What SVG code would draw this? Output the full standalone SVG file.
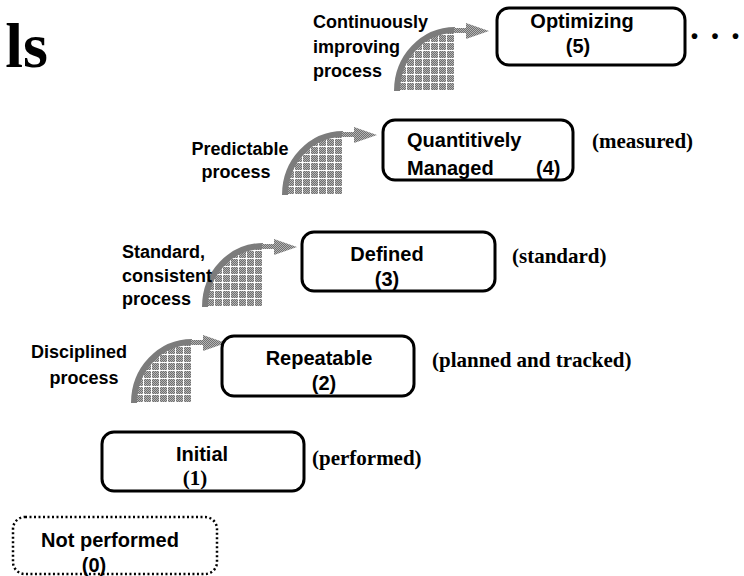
<svg xmlns="http://www.w3.org/2000/svg" xmlns:xlink="http://www.w3.org/1999/xlink" width="744" height="576" viewBox="0 0 744 576">
  <style>
    .box { fill: #ffffff; stroke: #000000; stroke-width: 3; }
    .box-dotted { fill: #ffffff; stroke: #000000; stroke-width: 2.5; stroke-dasharray: 2 2.5; }
    .title { font-family: "Liberation Sans", Arial, sans-serif; font-weight: bold; font-size: 20px; fill: #000; }
    .side { font-family: "Liberation Sans", Arial, sans-serif; font-weight: bold; font-size: 18px; fill: #000; }
    .note { font-family: "Liberation Serif", "Times New Roman", serif; font-weight: bold; font-size: 21px; fill: #000; }
    .heading { font-family: "Liberation Serif", "Times New Roman", serif; font-weight: bold; font-size: 64px; fill: #000; }
    .arc-edge { fill: none; stroke: #7c7c7c; stroke-width: 6; }
  </style>
  <defs>
    <!-- fine dither used inside the grid cells -->
    <pattern id="dither" width="2" height="2" patternUnits="userSpaceOnUse">
      <rect width="2" height="2" fill="#707070"/>
      <rect width="1" height="1" fill="#b4b4b4"/>
      <rect x="1" y="1" width="1" height="1" fill="#b4b4b4"/>
    </pattern>
    <!-- gray cells separated by thin white lines -->
    <pattern id="grid" width="8" height="8" patternUnits="userSpaceOnUse">
      <rect width="8" height="8" fill="url(#dither)"/>
      <rect x="7" width="1" height="8" fill="#ffffff"/>
      <rect y="7" width="8" height="1" fill="#ffffff"/>
    </pattern>
    <!-- curved step arrow, origin at the inner corner of the quarter ellipse -->
    <g id="stepArrow">
      <path d="M-58,0 A58,61 0 0 1 0,-61 L0,0 Z" fill="url(#grid)"/>
      <path class="arc-edge" d="M-58,0 A58,61 0 0 1 0,-61"/>
      <rect x="-1" y="-63" width="14" height="5" fill="url(#dither)"/>
      <polygon points="11,-68 34,-60 11,-52" fill="url(#dither)"/>
    </g>
  </defs>

  <rect width="744" height="576" fill="#ffffff"/>

  <text class="heading" x="48" y="67" text-anchor="end">ls</text>

  <!-- connectors: curved arrows between maturity steps -->
  <g id="connectors">
    <use xlink:href="#stepArrow" x="455" y="91"/>
    <use xlink:href="#stepArrow" x="343" y="195"/>
    <use xlink:href="#stepArrow" x="263" y="307"/>
    <use xlink:href="#stepArrow" x="192" y="403"/>
  </g>

  <g id="label-continuous">
    <text class="side" x="313" y="28">Continuously</text>
    <text class="side" x="313" y="53">improving</text>
    <text class="side" x="313" y="77">process</text>
  </g>

  <g id="label-predictable">
    <text class="side" x="240" y="155" text-anchor="middle">Predictable</text>
    <text class="side" x="236" y="178" text-anchor="middle">process</text>
  </g>

  <g id="label-standard">
    <text class="side" x="122" y="258">Standard,</text>
    <text class="side" x="122" y="282">consistent</text>
    <text class="side" x="122" y="305">process</text>
  </g>

  <g id="label-disciplined">
    <text class="side" x="79" y="358" text-anchor="middle">Disciplined</text>
    <text class="side" x="84" y="384" text-anchor="middle">process</text>
  </g>

  <g id="node-optimizing">
    <rect class="box" x="497" y="8" width="188" height="57" rx="12"/>
    <text class="title" x="582" y="28" text-anchor="middle">Optimizing</text>
    <text class="title" x="578" y="53" text-anchor="middle">(5)</text>
    <text class="title" x="717" y="43" text-anchor="middle" letter-spacing="4">• • •</text>
  </g>

  <g id="node-managed">
    <rect class="box" x="383" y="120" width="190" height="60" rx="12"/>
    <text class="title" x="407" y="147">Quantitively</text>
    <text class="title" x="407" y="175">Managed</text>
    <text class="title" x="536" y="175">(4)</text>
    <text class="note" x="592" y="148">(measured)</text>
  </g>

  <g id="node-defined">
    <rect class="box" x="302" y="232" width="193" height="59" rx="12"/>
    <text class="title" x="387" y="261" text-anchor="middle">Defined</text>
    <text class="title" x="387" y="286" text-anchor="middle">(3)</text>
    <text class="note" x="512" y="263">(standard)</text>
  </g>

  <g id="node-repeatable">
    <rect class="box" x="222" y="336" width="192" height="60" rx="12"/>
    <text class="title" x="319" y="365" text-anchor="middle">Repeatable</text>
    <text class="title" x="324" y="390" text-anchor="middle">(2)</text>
    <text class="note" x="432" y="367">(planned and tracked)</text>
  </g>

  <g id="node-initial">
    <rect class="box" x="102" y="432" width="202" height="59" rx="12"/>
    <text class="title" x="202" y="461" text-anchor="middle">Initial</text>
    <text class="note" x="195" y="485" text-anchor="middle">(1)</text>
    <text class="note" x="312" y="465">(performed)</text>
  </g>

  <g id="node-not-performed">
    <rect class="box-dotted" x="13" y="517" width="204" height="57" rx="12"/>
    <text class="title" x="110" y="547" text-anchor="middle">Not performed</text>
    <text class="title" x="94" y="572" text-anchor="middle">(0)</text>
  </g>
</svg>
